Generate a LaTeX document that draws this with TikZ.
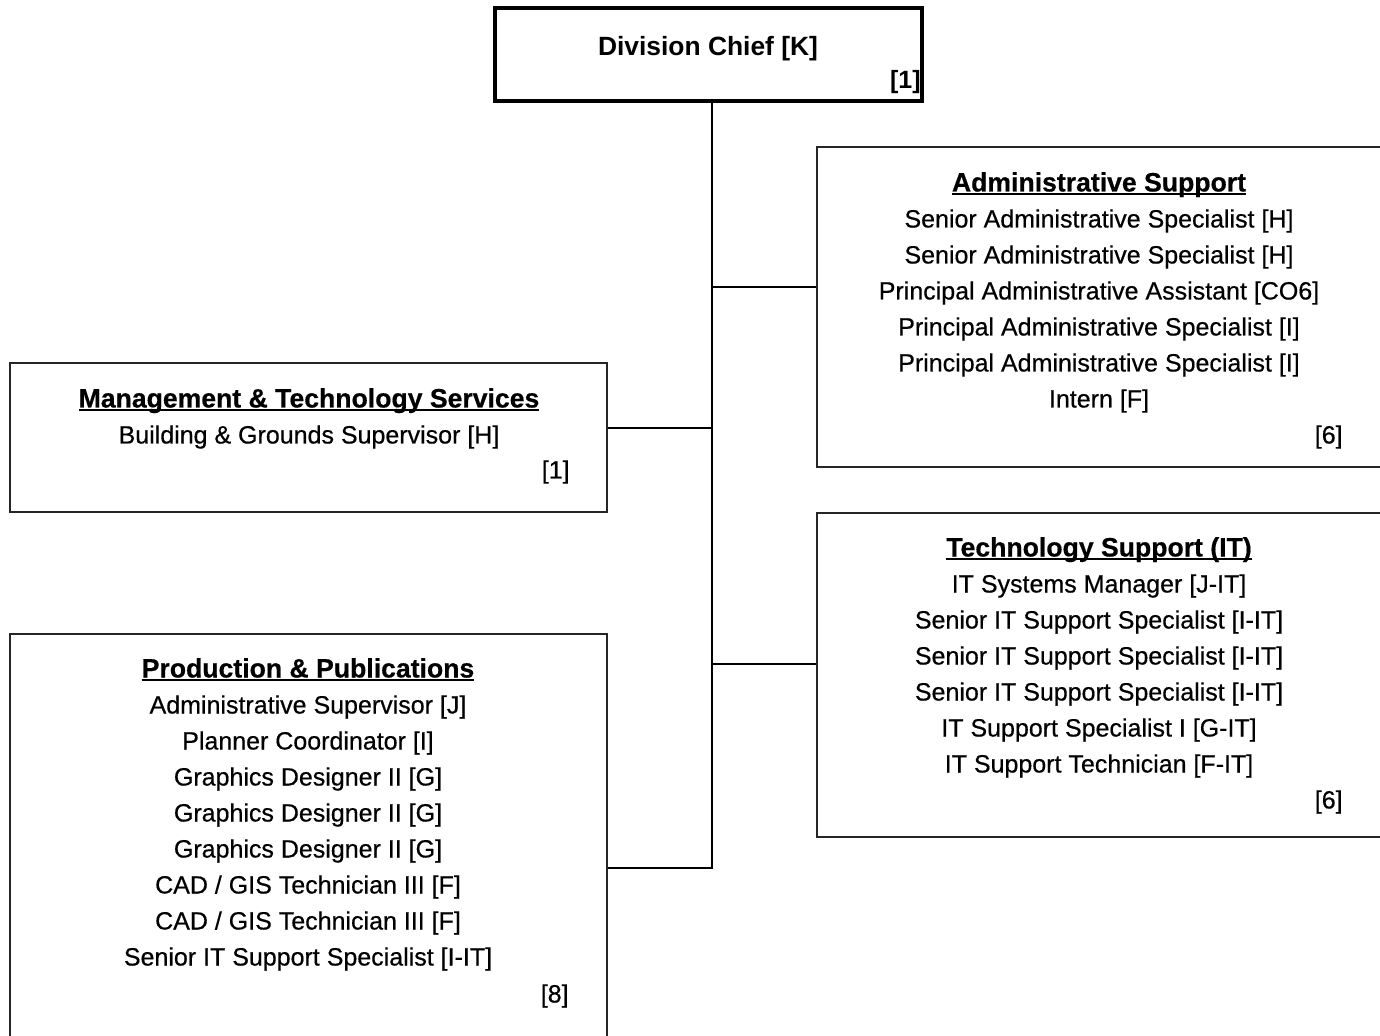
\documentclass[tikz,border=0pt]{standalone}
\usepackage{fontspec}
\setmainfont{Liberation Sans}
\newfontfamily\rolefont[FakeBold=0.5]{Liberation Sans}
\newfontfamily\chieffont{Liberation Sans Bold}
\newcommand{\unithead}[1]{\setbox0\hbox{\fontsize{13.3}{18}\selectfont\bfseries #1}\rlap{\rule[-1.8pt]{\wd0}{0.95pt}}\box0}
\begin{document}
\begin{tikzpicture}[x=0.5pt,y=-0.5pt,
  unitbox/.style={draw=black!85,line width=0.6pt,rectangle,inner sep=0pt},
  chiefbox/.style={draw=black,line width=1.6pt,rectangle,inner sep=0pt,
    minimum width=213.5pt,minimum height=46.5pt},
  roles/.style={align=center,inner sep=0pt,anchor=base,
    font=\rolefont\fontsize{12.5}{18}\selectfont},
  headcount/.style={inner sep=0pt,anchor=base east,font=\rolefont\fontsize{12.5}{18}\selectfont},
  link/.style={line width=1pt,black}]
\useasboundingbox (0,0) rectangle (1380,1036);
\clip (0,0) rectangle (1380,1036);

% Boxes
\node[chiefbox] (chief) at (708.5,54.5) {};
\node[unitbox,minimum width=291.5pt,minimum height=160pt] (admin) at (1108.5,307) {};
\node[unitbox,minimum width=298.5pt,minimum height=74.5pt] (mgmt) at (308.5,437.5) {};
\node[unitbox,minimum width=291.5pt,minimum height=162pt] (tech) at (1108.5,675) {};
\node[unitbox,minimum width=298.5pt,minimum height=213pt] (prod) at (308.5,847) {};

% Texts (a multi-line node sits on the baseline of its last line)
\node[roles,font=\chieffont\fontsize{13.2}{18}\selectfont] (chieft) at (708,55.5) {Division Chief [K]};
\node[headcount,font=\chieffont\fontsize{12.5}{18}\selectfont] (chiefn) at (921,88.5) {[1]};

\node[roles] (admint) at (1099,407.5) {\unithead{Administrative Support}\\
  Senior Administrative Specialist [H]\\
  Senior Administrative Specialist [H]\\
  Principal Administrative Assistant [CO6]\\
  Principal Administrative Specialist [I]\\
  Principal Administrative Specialist [I]\\
  Intern [F]};
\node[headcount] (adminn) at (1343,443.5) {[6]};

\node[roles] (mgmtt) at (309,443.5) {\unithead{Management \& Technology Services}\\
  Building \& Grounds Supervisor [H]};
\node[headcount] (mgmtn) at (570,478.5) {[1]};

\node[roles] (techt) at (1099,772.5) {\unithead{Technology Support (IT)}\\
  IT Systems Manager [J-IT]\\
  Senior IT Support Specialist [I-IT]\\
  Senior IT Support Specialist [I-IT]\\
  Senior IT Support Specialist [I-IT]\\
  IT Support Specialist I [G-IT]\\
  IT Support Technician [F-IT]};
\node[headcount] (techn) at (1343,808.5) {[6]};

\node[roles] (prodt) at (308,965.5) {\unithead{Production \& Publications}\\
  Administrative Supervisor [J]\\
  Planner Coordinator [I]\\
  Graphics Designer II [G]\\
  Graphics Designer II [G]\\
  Graphics Designer II [G]\\
  CAD / GIS Technician III [F]\\
  CAD / GIS Technician III [F]\\
  Senior IT Support Specialist [I-IT]};
\node[headcount] (prodn) at (569,1002.5) {[8]};

% Connectors
\coordinate (jadmin) at (712,287);
\coordinate (jmgmt) at (712,428);
\coordinate (jtech) at (712,664);
\coordinate (jprod) at (712,868);
\draw[link] (chief.south -| jprod) -- (jprod) -- (prod.east |- jprod);
\draw[link] (jadmin) -- (admin.west |- jadmin);
\draw[link] (jmgmt) -- (mgmt.east |- jmgmt);
\draw[link] (jtech) -- (tech.west |- jtech);
\end{tikzpicture}
\end{document}
